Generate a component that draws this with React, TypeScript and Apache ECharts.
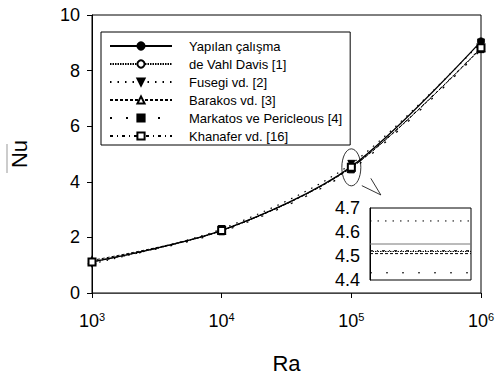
import React, { useEffect, useRef } from 'react';
import * as echarts from 'echarts';

const raValues = [1e3, 1e4, 1e5, 1e6];
const seriesNames = [
  'Yapılan çalışma',
  'de Vahl Davis [1]',
  'Fusegi vd. [2]',
  'Barakos vd. [3]',
  'Markatos ve Pericleous [4]',
  'Khanafer vd. [16]',
];
const yapilan = [1.12, 2.25, 4.55, 9.05];
const deVahlDavis = [1.118, 2.243, 4.519, 8.8];
const fusegi = [1.052, 2.302, 4.646, 9.012];
const barakos = [1.174, 2.245, 4.51, 8.806];
const markatos = [1.108, 2.201, 4.43, 8.754];
const khanafer = [1.118, 2.245, 4.522, 8.826];
const allValues = [yapilan, deVahlDavis, fusegi, barakos, markatos, khanafer];
const yTickStep = 2;
const insetTicks = [4.4, 4.5, 4.6, 4.7];
const insetRaIndex = 2; // Ra = 1e5

const FONT = '"Liberation Sans", Arial, sans-serif';

const styles = [
  { type: 'solid', width: 1.3, symbol: 'circle', size: 7, rotate: 0 },
  { type: [1.5, 1], width: 1, symbol: 'emptyCircle', size: 6, rotate: 0 },
  { type: [1.5, 6], width: 1.2, symbol: 'triangle', size: 7, rotate: 180 },
  { type: [3, 2], width: 1, symbol: 'emptyTriangle', size: 6, rotate: 0 },
  { type: [2, 14], width: 1.3, symbol: 'rect', size: 6, rotate: 0 },
  { type: [3, 4, 1, 4], width: 1, symbol: 'emptyRect', size: 7, rotate: 0 },
];

export default function App() {
  const ref = useRef<HTMLDivElement>(null);
  useEffect(() => {
    if (!ref.current) return;
    const chart = echarts.init(ref.current, null, { renderer: 'svg' });
    const mainSeries = seriesNames.map((name, i) => ({
      name,
      type: 'line',
      xAxisIndex: 0,
      yAxisIndex: 0,
      smooth: 0.3,
      data: raValues.map((r, j) => [r, allValues[i][j]]),
      symbol: styles[i].symbol,
      symbolSize: styles[i].size,
      symbolRotate: styles[i].rotate,
      showSymbol: true,
      lineStyle: { color: '#000', width: styles[i].width, type: styles[i].type },
      itemStyle: { color: '#000', borderColor: '#000', borderWidth: 1 },
      z: 2 + i,
    }));
    const insetSeries = seriesNames.map((name, i) => ({
      name: 'inset-' + name,
      type: 'line',
      xAxisIndex: 1,
      yAxisIndex: 1,
      data: [
        [0, allValues[i][insetRaIndex]],
        [1, allValues[i][insetRaIndex]],
      ],
      showSymbol: false,
      symbol: 'none',
      lineStyle: { color: i === 0 ? '#777' : '#000', width: 1, type: styles[i].type },
      z: 2 + i,
    }));
    chart.setOption({
      animation: false,
      backgroundColor: '#fff',
      textStyle: { fontFamily: FONT },
      grid: [
        { left: 86, top: 15, right: 17, bottom: 79, show: true, borderColor: '#000', borderWidth: 1 },
        { left: 370, top: 208, width: 101, height: 72, show: true, borderColor: '#000', borderWidth: 1 },
      ],
      legend: {
        data: seriesNames,
        orient: 'vertical',
        left: 101,
        top: 32,
        itemWidth: 62,
        itemHeight: 9,
        itemGap: 4,
        padding: [7, 8, 2, 8],
        borderColor: '#000',
        borderWidth: 1,
        backgroundColor: '#fff',
        selectedMode: false,
        textStyle: {
          fontSize: 13,
          lineHeight: 14,
          fontFamily: FONT,
          color: '#000',
          padding: [0, 0, 0, 12],
        },
      },
      xAxis: [
        {
          type: 'log',
          gridIndex: 0,
          logBase: 10,
          min: 1e3,
          max: 1e6,
          name: 'Ra',
          nameLocation: 'middle',
          nameGap: 59,
          nameTextStyle: { fontSize: 22, color: '#000', fontFamily: FONT },
          axisLine: { lineStyle: { color: '#444', width: 1 } },
          axisTick: { show: true, inside: false, length: 5, lineStyle: { color: '#000' } },
          minorTick: { show: false },
          splitLine: { show: false },
          axisLabel: {
            margin: 18,
            color: '#000',
            formatter: (v: number) => `{b|10}{s|${Math.round(Math.log10(v))}}`,
            rich: {
              b: { fontSize: 18, fontFamily: FONT, color: '#000', lineHeight: 20 },
              s: { fontSize: 11, fontFamily: FONT, color: '#000', verticalAlign: 'top', lineHeight: 12 },
            },
          },
        },
        { type: 'value', gridIndex: 1, min: 0, max: 1, show: false },
      ],
      yAxis: [
        {
          type: 'value',
          gridIndex: 0,
          min: 0,
          max: 10,
          interval: yTickStep,
          name: 'Nu',
          nameLocation: 'middle',
          nameRotate: 90,
          nameGap: 62,
          nameTextStyle: { fontSize: 22, color: '#000', fontFamily: FONT },
          axisLine: { show: true, lineStyle: { color: '#000', width: 1 } },
          axisTick: { show: true, inside: false, length: 5, lineStyle: { color: '#000' } },
          splitLine: { show: false },
          axisLabel: { fontSize: 18, color: '#000', margin: 12, fontFamily: FONT },
        },
        {
          type: 'value',
          gridIndex: 1,
          min: insetTicks[0],
          max: insetTicks[insetTicks.length - 1],
          interval: 0.1,
          axisLine: { show: true, lineStyle: { color: '#000', width: 1 } },
          axisTick: { show: false },
          splitLine: { show: false },
          axisLabel: {
            fontSize: 18,
            color: '#000',
            margin: 10,
            fontFamily: FONT,
            formatter: (v: number) => v.toFixed(1),
          },
        },
      ],
      series: [...mainSeries, ...insetSeries],
    });
    const c = chart.convertToPixel({ gridIndex: 0 }, [raValues[insetRaIndex], 4.52]) as number[];
    const cx = c[0];
    const cy = c[1];
    chart.setOption({
      graphic: [
        {
          type: 'ellipse',
          shape: { cx, cy, rx: 9.5, ry: 18.5 },
          style: { stroke: '#000', fill: 'none', lineWidth: 0.8 },
          z: 20,
        },
        {
          type: 'line',
          shape: { x1: cx + 10.5, y1: cy + 18.3, x2: cx + 29.5, y2: cy + 27.6 },
          style: { stroke: '#000', lineWidth: 0.8 },
          z: 20,
        },
        {
          type: 'line',
          shape: { x1: cx + 19.5, y1: cy + 11, x2: cx + 29.5, y2: cy + 27.6 },
          style: { stroke: '#000', lineWidth: 0.8 },
          z: 20,
        },
        {
          type: 'line',
          shape: { x1: 7, y1: 144, x2: 7, y2: 173 },
          style: { stroke: '#999', lineWidth: 1 },
          z: 20,
        },
      ],
    });
    return () => chart.dispose();
  }, []);
  return (
    <div
      ref={ref}
      style={{ position: 'absolute', left: 0, top: 0, width: 498, height: 379 }}
    />
  );
}
